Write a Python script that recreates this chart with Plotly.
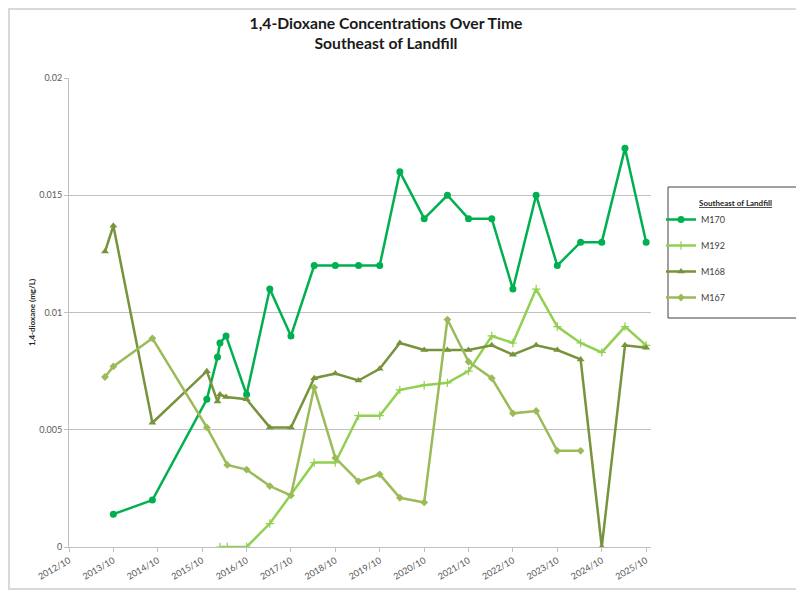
import plotly.graph_objects as go

# ---- data ----
m170_dates = ["2013-10-01","2014-08-18","2015-11-09","2016-02-05","2016-02-25","2016-04-15","2016-10-01",
              "2017-04-10","2017-10-01","2018-04-10","2018-10-01","2019-04-10","2019-10-01","2020-03-15",
              "2020-10-01","2021-04-10","2021-10-01","2022-04-10","2022-10-01","2023-04-10","2023-10-01",
              "2024-04-10","2024-10-01","2025-04-10","2025-10-01"]
m170_vals = [0.0014, 0.002, 0.0063, 0.0081, 0.0087, 0.009, 0.0065, 0.011, 0.009, 0.012, 0.012, 0.012, 0.012,
             0.016, 0.014, 0.015, 0.014, 0.014, 0.011, 0.015, 0.012, 0.013, 0.013, 0.017, 0.013]

m192_dates = ["2016-02-24","2016-04-25","2016-10-01","2017-04-10","2018-04-10","2018-10-01","2019-04-10",
              "2019-10-01","2020-03-15","2020-10-01","2021-04-10","2021-10-01","2022-04-10","2022-10-01",
              "2023-04-10","2023-10-01","2024-04-10","2024-10-01","2025-04-10","2025-10-01"]
m192_vals = [0, 0, 0, 0.001, 0.0036, 0.0036, 0.0056, 0.0056, 0.0067, 0.0069, 0.007, 0.0075, 0.009, 0.0087,
             0.011, 0.0094, 0.0087, 0.0083, 0.0094, 0.0086]

m168_dates = ["2013-07-24","2013-10-01","2014-08-18","2015-11-09","2016-02-05","2016-02-25","2016-04-15",
              "2016-10-01","2017-04-10","2017-10-01","2018-04-10","2018-10-01","2019-04-10","2019-10-01",
              "2020-03-15","2020-10-01","2021-04-10","2021-10-01","2022-04-10","2022-10-01","2023-04-10",
              "2023-10-01","2024-04-10","2024-10-01","2025-04-10","2025-10-01"]
m168_vals = [0.0126, 0.0137, 0.0053, 0.0075, 0.0062, 0.0065, 0.0064, 0.0063, 0.0051, 0.0051, 0.0072, 0.0074,
             0.0071, 0.0076, 0.0087, 0.0084, 0.0084, 0.0084, 0.0086, 0.0082, 0.0086, 0.0084, 0.008, 0.0,
             0.0086, 0.0085]

m167_dates = ["2013-07-24","2013-10-01","2014-08-18","2015-11-09","2016-04-25","2016-10-01","2017-04-10",
              "2017-10-01","2018-04-10","2018-10-01","2019-04-10","2019-10-01","2020-03-15","2020-10-01",
              "2021-04-10","2021-10-01","2022-04-10","2022-10-01","2023-04-10","2023-10-01","2024-04-10"]
m167_vals = [0.00725, 0.0077, 0.0089, 0.0051, 0.0035, 0.0033, 0.0026, 0.0022, 0.0068, 0.0038, 0.0028, 0.0031,
             0.0021, 0.0019, 0.0097, 0.0079, 0.0072, 0.0057, 0.0058, 0.0041, 0.0041]

y_ticks = [0, 0.005, 0.01, 0.015, 0.02]
y_tick_labels = ["0", "0.005", "0.01", "0.015", "0.02"]

FONT = "Lato, 'Open Sans', sans-serif"

series = [
    ("M170", m170_dates, m170_vals, "#00B050", dict(symbol="circle", size=7)),
    ("M192", m192_dates, m192_vals, "#92D050", dict(symbol="cross-thin", size=6, line=dict(width=1.2, color="#92D050"))),
    ("M168", m168_dates, m168_vals, "#77933C", dict(symbol="triangle-up", size=7)),
    ("M167", m167_dates, m167_vals, "#9BBB59", dict(symbol="diamond", size=6)),
]

fig = go.Figure()
for name, d, v, c, mk in series:
    fig.add_trace(go.Scatter(
        x=d, y=v, name=name, mode="lines+markers",
        line=dict(color=c, width=2.5), marker=dict(color=c, **mk),
        legendgroup=name,
    ))

# page is rendered with an 8px body margin; figure is sized to compensate
W, H = 796, 583
fig.update_layout(
    width=W, height=H,
    paper_bgcolor="white", plot_bgcolor="white",
    margin=dict(l=61, r=153, t=70, b=44, autoexpand=False),
    font=dict(family=FONT, color="#404040"),
    title=dict(text="<b>1,4-Dioxane Concentrations Over Time<br>Southeast of Landfill</b>",
               x=378/W, xanchor="center", y=1-21/H, yanchor="middle",
               font=dict(size=15.7, color="#1a1a1a", family=FONT)),
    showlegend=True,
    legend=dict(x=(661-69)/582, xanchor="left", y=(547-205)/469, yanchor="top",
                bgcolor="rgba(0,0,0,0)", borderwidth=0, tracegroupgap=7,
                font=dict(size=9, color="#404040", family=FONT)),
    xaxis=dict(type="date", range=["2012-10-01", "2025-11-10"], automargin=False,
               tick0="2012-10-01", dtick="M12", tickformat="%Y/%m", tickangle=-30,
               showgrid=False, showline=True, linecolor="#BFBFBF", linewidth=1,
               ticks="outside", ticklen=4, tickcolor="#BFBFBF",
               tickfont=dict(size=9, color="#595959"), zeroline=False),
    yaxis=dict(range=[0, 0.02], tickvals=y_ticks, ticktext=y_tick_labels, automargin=False,
               showgrid=True, gridcolor="#BFBFBF", gridwidth=1,
               showline=True, linecolor="#BFBFBF", linewidth=1,
               ticks="outside", ticklen=4, tickcolor="#BFBFBF",
               tickfont=dict(size=9, color="#595959"), zeroline=False,
               title=dict(text="<b>1,4-dioxane (mg/L)</b>", font=dict(size=8, color="#262626"), standoff=2)),
    shapes=[
        dict(type="rect", xref="paper", yref="paper",
             x0=(9-69)/582, x1=(830-69)/582, y0=(547-589)/469, y1=(547-9)/469,
             line=dict(color="#D9D9D9", width=2), fillcolor="rgba(0,0,0,0)", layer="below"),
        dict(type="rect", xref="paper", yref="paper",
             x0=(668-69)/582, x1=(820-69)/582, y0=(547-318)/469, y1=(547-187)/469,
             line=dict(color="#404040", width=1), fillcolor="rgba(0,0,0,0)"),
    ],
    annotations=[
        dict(text="<b><u>Southeast of Landfill</u></b>", xref="paper", yref="paper",
             x=(735-69)/582, y=(547-203)/469, xanchor="center", yanchor="middle",
             showarrow=False, font=dict(size=8, color="#262626", family=FONT)),
    ],
)

fig.write_html("out.html")
